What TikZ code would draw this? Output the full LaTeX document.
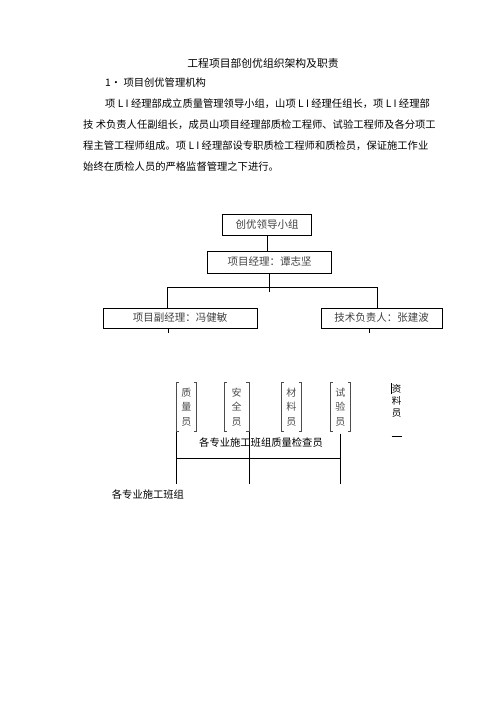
\documentclass[tikz,border=0pt]{standalone}
\usepackage{fontspec}
\setmainfont{Noto Sans CJK SC}
\usetikzlibrary{positioning}

\begin{document}
\begin{tikzpicture}[x=1pt,y=-1pt,every node/.style={inner sep=0pt,
    text=black,font=\fontsize{10.3}{12}\selectfont},
  line/.style={anchor=west},
  lead/.style={draw,line width=.7pt,text=black!75,
    font=\fontsize{10.5}{12}\selectfont},
  post/.style={text=black!70,align=center,minimum width=20,
    minimum height=49,font=\fontsize{10}{14.5}\selectfont},
  bar/.style={draw=black!70,line width=.6pt},
  link/.style={line width=.6pt}]

  \useasboundingbox (0,0) rectangle (503,711);

  % heading and text
  \node[font=\fontsize{10.8}{12}\selectfont] (title) at (263,63) {工程项目部创优组织架构及职责};
  \node[line] (head) at (105,83) {1• 项目创优管理机构};
  \node[line] (para1) at (105,104) {项 L I 经理部成立质量管理领导小组，山项 L I 经理任组长，项 L I 经理部};
  \node[line] (para2) at (83,125) {技 术负责人任副组长，成员山项目经理部质检工程师、试验工程师及各分项工};
  \node[line] (para3) at (83,146) {程主管工程师组成。项 L I 经理部设专职质检工程师和质检员，保证施工作业};
  \node[line] (para4) at (83,167) {始终在质检人员的严格监督管理之下进行。};

  % leaders
  \node[lead,minimum width=89,minimum height=21] (group) at (267,225) {创优领导小组};
  \node[lead,minimum width=124,minimum height=22] (pm) at (269.5,262) {项目经理：谭志坚};
  \node[lead,minimum width=154,minimum height=20] (deputy) at (180,318) {项目副经理：冯健敏};
  \node[lead,minimum width=121,minimum height=20] (tech) at (381.5,318) {技术负责人：张建波};

  \coordinate (busL) at (167.7,287);
  \coordinate (busR) at (377.7,287);
  \coordinate (tickL) at (168,333);
  \coordinate (tickR) at (369,333);

  \draw[link] (group.south) -- (group.south |- pm.north);
  \draw[link] (pm.south) -- ++(0,19);
  \draw[link] (busL |- deputy.north) -- (busL) -- (busR) -- (busR |- tech.north);
  \draw[link] (tickL |- deputy.south) -- (tickL);
  \draw[link] (tickR |- tech.south) -- (tickR);

  % posts
  \node[post] (quality) at (186.3,407) {质\\量\\员};
  \node[post,minimum width=25] (safety) at (236.5,407) {安\\全\\员};
  \node[post] (material) at (291.3,407) {材\\料\\员};
  \node[post] (test) at (340.3,407) {试\\验\\员};
  \node[post,minimum width=10,text=black,
    font=\fontsize{9.5}{12}\selectfont] (archive) at (396.5,401) {资\\料\\员};

  \foreach \n in {quality,safety,material,test} {
    \draw[bar] ([xshift=3]\n.north west) -- (\n.north west)
      -- (\n.south west) -- ([xshift=3]\n.south west);
    \draw[bar] ([xshift=-3]\n.north east) -- (\n.north east)
      -- (\n.south east) -- ([xshift=-3]\n.south east);
  }

  \coordinate (archtop) at (391.5,383);
  \coordinate (archbot) at (391.5,436);
  \draw[link] (archtop) -- ++(0,11);
  \draw[link] (archbot) -- ++(10,0);

  % inspectors and crews
  \node (inspect) at (261,443) {各专业施工班组质量检查员};
  \node[line] (crews) at (111.7,495) {各专业施工班组};

  \draw[link] (quality.south west) -- ++(0,52);
  \draw[link] (safety.south east) -- ++(0,52);
  \draw[link] (test.south) ++(0,2) -- ++(0,50);
  \draw[link] (quality.south west |- 0,458) -- (test.south |- 0,458);

\end{tikzpicture}
\end{document}
